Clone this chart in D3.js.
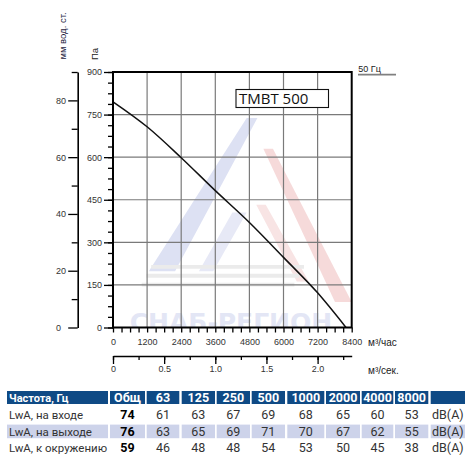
<!DOCTYPE html>
<html><head><meta charset="utf-8">
<script src="https://cdn.jsdelivr.net/npm/d3@7"></script>
<style>
html,body{margin:0;padding:0;background:#fff;}
svg{display:block;}
</style></head>
<body>
<svg id="chart" width="470" height="461"></svg>
<script>
// ---- data ----
const flowPoints = [0, 1200, 2400, 3600, 4800, 6000, 7200, 8200];      // м³/час
const pressurePoints = [795, 707, 598, 482, 370, 247, 122, 0];          // Па
const flowTicks = [0, 1200, 2400, 3600, 4800, 6000, 7200, 8400];
const pressureTicks = [0, 150, 300, 450, 600, 750, 900];
const mmTicks = [0, 20, 40, 60, 80];
const secTicks = [0, 0.5, 1.0, 1.5, 2.0];
const modelName = "TMBT 500";
const freqLabel = "50 Гц";

const tableHeader = ["Частота, Гц", "Общ", "63", "125", "250", "500", "1000", "2000", "4000", "8000", ""];
const rowLabels = ["LwA, на входе", "LwA, на выходе", "LwA, к окружению"];
const inletValues = [74, 61, 63, 67, 69, 68, 65, 60, 53];
const outletValues = [76, 63, 65, 69, 71, 70, 67, 62, 55];
const ambientValues = [59, 46, 48, 48, 54, 53, 50, 45, 38];
const unitLabel = "dB(A)";

// ---- layout ----
const svg = d3.select("#chart");
const L = 113, R = 351.7, T = 72, B = 327.5;
const x = d3.scaleLinear().domain([0, 8400]).range([L, R]);
const y = d3.scaleLinear().domain([0, 900]).range([B, T]);
const yMm = d3.scaleLinear().domain([0, 90]).range([B, T]);
const xSec = d3.scaleLinear().domain([0, 8400 / 3600]).range([L, R]);
const fx = d3.scaleLinear().domain([0, 1]).range([L, R]);
const fy = d3.scaleLinear().domain([0, 1]).range([T, B]);
const tickFont = "'Liberation Sans', Arial, sans-serif";

// clip
svg.append("clipPath").attr("id", "plotclip").append("rect")
  .attr("x", L).attr("y", T).attr("width", R - L).attr("height", B - T);

// ---- watermark (decoration) ----
const wm = svg.append("g").attr("clip-path", "url(#plotclip)");
const wmShapes = [
  {c: "#dde1f3", p: [[0.56,0.18],[0.605,0.18],[0.26,0.78],[0.15,0.78]]},
  {c: "#e7e9f6", p: [[0.50,0.55],[0.56,0.55],[0.42,0.78],[0.36,0.78]]},
  {c: "#f6dada", p: [[0.63,0.30],[0.67,0.30],[1.0,0.90],[0.93,0.90]]},
  {c: "#f8e4e4", p: [[0.60,0.52],[0.64,0.52],[0.82,0.82],[0.77,0.82]]},
  {c: "#ebebeb", p: [[0.16,0.755],[0.80,0.755],[0.80,0.77],[0.16,0.77]]},
  {c: "#ebebeb", p: [[0.14,0.79],[0.78,0.79],[0.78,0.805],[0.14,0.805]]},
  {c: "#ebebeb", p: [[0.12,0.825],[0.76,0.825],[0.76,0.84],[0.12,0.84]]}
];
wm.selectAll("polygon").data(wmShapes).join("polygon")
  .attr("points", d => d.p.map(q => fx(q[0]) + "," + fy(q[1])).join(" "))
  .attr("fill", d => d.c);
wm.append("text").attr("x", fx(0.07)).attr("y", B + 3)
  .attr("font-family", "'DejaVu Sans', sans-serif").attr("font-weight", "bold")
  .attr("font-size", 25).attr("fill", "#e3e6f5").text("СНАБ-РЕГИОН");

// ---- grid ----
svg.append("g").selectAll("line").data(flowTicks.slice(1, -1)).join("line")
  .attr("x1", d => x(d)).attr("x2", d => x(d)).attr("y1", T).attr("y2", B)
  .attr("stroke", "#7a7a7a").attr("stroke-width", 1.2);
svg.append("g").selectAll("line").data(pressureTicks.slice(1, -1)).join("line")
  .attr("y1", d => y(d)).attr("y2", d => y(d)).attr("x1", L).attr("x2", R)
  .attr("stroke", "#7a7a7a").attr("stroke-width", 1.2);

// ---- curve ----
const line = d3.line().x((d, i) => x(flowPoints[i])).y(d => y(d)).curve(d3.curveMonotoneX);
svg.append("path").attr("d", line(pressurePoints))
  .attr("fill", "none").attr("stroke", "#111").attr("stroke-width", 1.5);

// ---- border ----
svg.append("rect").attr("x", L).attr("y", T).attr("width", R - L).attr("height", B - T)
  .attr("fill", "none").attr("stroke", "#000").attr("stroke-width", 2);

function styleAxis(g) {
  g.selectAll("text").attr("font-family", tickFont).attr("font-size", 9).attr("fill", "#333");
  g.selectAll("line").attr("stroke", "#000").attr("stroke-width", 1.3);
}

// Pa axis (left)
const paMinor = svg.append("g").attr("transform", `translate(${L},0)`)
  .call(d3.axisLeft(y).tickValues(d3.range(0, 901, 37.5)).tickSize(5).tickFormat(""));
paMinor.select(".domain").remove(); styleAxis(paMinor);
const paMajor = svg.append("g").attr("transform", `translate(${L},0)`)
  .call(d3.axisLeft(y).tickValues(pressureTicks).tickSize(9).tickPadding(2));
paMajor.select(".domain").remove(); styleAxis(paMajor);

// mm axis
const mmX = 77.7;
const mmMinor = svg.append("g").attr("transform", `translate(${mmX},0)`)
  .call(d3.axisLeft(yMm).tickValues([10, 30, 50, 70, 90]).tickSize(6).tickFormat("").tickSizeOuter(0));
styleAxis(mmMinor);
mmMinor.select(".domain").attr("stroke", "#000").attr("stroke-width", 1.6);
const mmMajor = svg.append("g").attr("transform", `translate(${mmX},0)`)
  .call(d3.axisLeft(yMm).tickValues(mmTicks).tickSize(9.5).tickFormat(d3.format("d")));
mmMajor.select(".domain").remove(); styleAxis(mmMajor);
mmMajor.selectAll("text").attr("text-anchor", "start").attr("x", 56 - mmX);

// flow axis (bottom)
const flowAxis = svg.append("g").attr("transform", `translate(0,${B})`)
  .call(d3.axisBottom(x).tickValues(d3.range(0, 8401, 300)).tickSize(5).tickPadding(6)
    .tickFormat(d => flowTicks.includes(d) ? d : ""));
flowAxis.select(".domain").remove(); styleAxis(flowAxis);

// m3/s axis
const secY = 356;
const secMinor = svg.append("g").attr("transform", `translate(0,${secY})`)
  .call(d3.axisBottom(xSec).tickValues(d3.range(0, 2.3, 0.25)).tickSize(4).tickFormat("").tickSizeOuter(0));
styleAxis(secMinor);
secMinor.select(".domain").attr("stroke", "#000").attr("stroke-width", 1.6);
const secMajor = svg.append("g").attr("transform", `translate(0,${secY})`)
  .call(d3.axisBottom(xSec).tickValues(secTicks).tickSize(8).tickPadding(2)
    .tickFormat(d => d === 0 ? "0" : d3.format(".1f")(d)));
secMajor.select(".domain").remove(); styleAxis(secMajor);

// axis titles
svg.append("text").attr("transform", "translate(98,54) rotate(-90)")
  .attr("text-anchor", "middle").attr("font-family", tickFont).attr("font-size", 9.5)
  .attr("fill", "#222").text("Па");
svg.append("text").attr("transform", "translate(66,36) rotate(-90)")
  .attr("text-anchor", "middle").attr("font-family", tickFont).attr("font-size", 9.5)
  .attr("fill", "#1d2240").text("мм вод. ст.");
svg.append("text").attr("x", 368).attr("y", 346).attr("font-family", tickFont)
  .attr("font-size", 10).attr("fill", "#222").text("м³/час");
svg.append("text").attr("x", 368).attr("y", 373.5).attr("font-family", tickFont)
  .attr("font-size", 10).attr("fill", "#222").text("м³/сек.");

// 50 Hz label
svg.append("text").attr("x", 358.3).attr("y", 71.5).attr("font-family", tickFont)
  .attr("font-size", 9).attr("fill", "#222").text(freqLabel);
svg.append("line").attr("x1", 358).attr("x2", 396).attr("y1", 74.7).attr("y2", 74.7)
  .attr("stroke", "#808080").attr("stroke-width", 1.8);

// model box
svg.append("rect").attr("x", 236).attr("y", 89.5).attr("width", 92.5).attr("height", 18)
  .attr("fill", "#fff").attr("stroke", "#111").attr("stroke-width", 1.1);
svg.append("text").attr("x", 239).attr("y", 104).attr("font-family", "'Open Sans', sans-serif")
  .attr("font-size", 15).attr("fill", "#111").text(modelName);

// ---- table ----
const colEdges = [[7,108],[110,145],[146.7,179.3],[181.7,215],[216.7,250],[251.7,285],
  [287.3,324.3],[326,360],[361.7,393.3],[395,428.3],[430.7,465]];
const tFont = "Roboto, 'Open Sans', sans-serif";
const headY = [391, 404], rowCenters = [414.7, 431.3, 448];
const tbl = svg.append("g");
tbl.selectAll("rect.h").data(colEdges).join("rect").attr("class", "h")
  .attr("x", d => d[0]).attr("width", d => d[1] - d[0])
  .attr("y", headY[0]).attr("height", headY[1] - headY[0]).attr("fill", "#0f4a85");
tbl.selectAll("rect.s").data(colEdges).join("rect").attr("class", "s")
  .attr("x", d => d[0]).attr("width", d => d[1] - d[0])
  .attr("y", 424.6).attr("height", 13.6).attr("fill", "#cdd3ea");
tbl.selectAll("text.h").data(tableHeader).join("text").attr("class", "h")
  .attr("x", (d, i) => i === 0 ? 9 : (colEdges[i][0] + colEdges[i][1]) / 2)
  .attr("y", 401.8).attr("text-anchor", (d, i) => i === 0 ? "start" : "middle")
  .attr("font-family", tFont).attr("font-weight", "bold")
  .attr("font-size", (d, i) => i === 0 ? 11 : 12.5).attr("fill", "#fff").text(d => d);

const rows = [inletValues, outletValues, ambientValues];
rows.forEach((vals, r) => {
  const cy = rowCenters[r] + 4.3;
  tbl.append("text").attr("x", 9).attr("y", cy).attr("font-family", tFont)
    .attr("font-size", 11.5).attr("fill", "#333").text(rowLabels[r]);
  tbl.selectAll(null).data(vals).join("text")
    .attr("x", (d, i) => (colEdges[i + 1][0] + colEdges[i + 1][1]) / 2)
    .attr("y", cy).attr("text-anchor", "middle").attr("font-family", tFont)
    .attr("font-size", 12.5).attr("font-weight", (d, i) => i === 0 ? "bold" : "normal")
    .attr("fill", (d, i) => i === 0 ? "#000" : "#333").text(d => d);
  tbl.append("text").attr("x", (colEdges[10][0] + colEdges[10][1]) / 2).attr("y", cy)
    .attr("text-anchor", "middle").attr("font-family", tFont).attr("font-size", 12.5)
    .attr("fill", "#333").text(unitLabel);
});
</script>
</body></html>
